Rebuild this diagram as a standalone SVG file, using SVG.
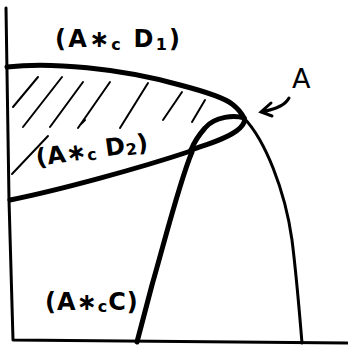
<svg xmlns="http://www.w3.org/2000/svg" width="348" height="349" viewBox="0 0 348 349">
<style>
.ax{fill:none;stroke:#000;stroke-width:3;stroke-linecap:round;stroke-linejoin:round}
.thick{fill:none;stroke:#000;stroke-width:5;stroke-linecap:round;stroke-linejoin:round}
.thin{fill:none;stroke:#000;stroke-width:3;stroke-linecap:round}
.hatch{fill:none;stroke:#000;stroke-width:2;stroke-linecap:round}
.lbl{font-family:"DejaVu Sans","Liberation Sans",sans-serif;font-size:24px;font-weight:bold;fill:#000;letter-spacing:3px}
.sub{font-size:16px}
</style>
<rect width="348" height="349" fill="#fff"/>
<g id="axes">
<path class="ax" d="M6,8 L9,200 L13,340 L347,343"/>
</g>
<g id="hatching">
<path class="hatch" d="M13,107 L38,77 M23,127 L62,77 M50,127 L83,82 M78,128 L110,82 M120,128 L148,83 M163,120 L182,92 M192,122 L205,100 M12,174 L48,136 M80,125 L85,120"/>
</g>
<g id="connectors">
<path class="thick" d="M7,67 C50,62 120,68 180,85 Q222,96 232,104 Q240,110 244,118"/>
<path class="thick" d="M244,118 C235,115 215,116 205,128 C198,136 193,145 191,150"/>
<path class="thick" d="M191,150 C205,145 230,138 240,128 Q246,122 244,118"/>
<path class="thick" d="M10,200 C60,190 140,168 191,151"/>
<path class="thick" d="M137,342 L152,285 C165,240 180,180 192,152"/>
<path class="thin" d="M244,118 C265,140 285,190 292,240 C297,280 300,320 302,343"/>
<path class="thin" d="M289,98 C285,106 272,110 261,112 M271,103 L261,112 L272,116"/>
</g>
<g id="label-D1"><text class="lbl" x="55" y="47" textLength="128">(A∗<tspan class="sub" dy="3">c</tspan><tspan dy="-3"> D</tspan><tspan class="sub" dy="3">1</tspan><tspan dy="-3">)</tspan></text></g>
<g id="label-D2"><text class="lbl" x="37" y="166" transform="rotate(-8 37 166)" textLength="116">(A∗<tspan class="sub" dy="2">c</tspan><tspan dy="-2"> D</tspan><tspan class="sub" dy="2">2</tspan><tspan dy="-2">)</tspan></text></g>
<g id="label-C"><text class="lbl" x="45" y="310" style="letter-spacing:1px">(A∗<tspan class="sub" dy="2">c</tspan><tspan dy="-2">C)</tspan></text></g>
<g id="label-A"><text class="lbl" x="292" y="88" style="font-size:27px;font-weight:normal">A</text></g>
</svg>
